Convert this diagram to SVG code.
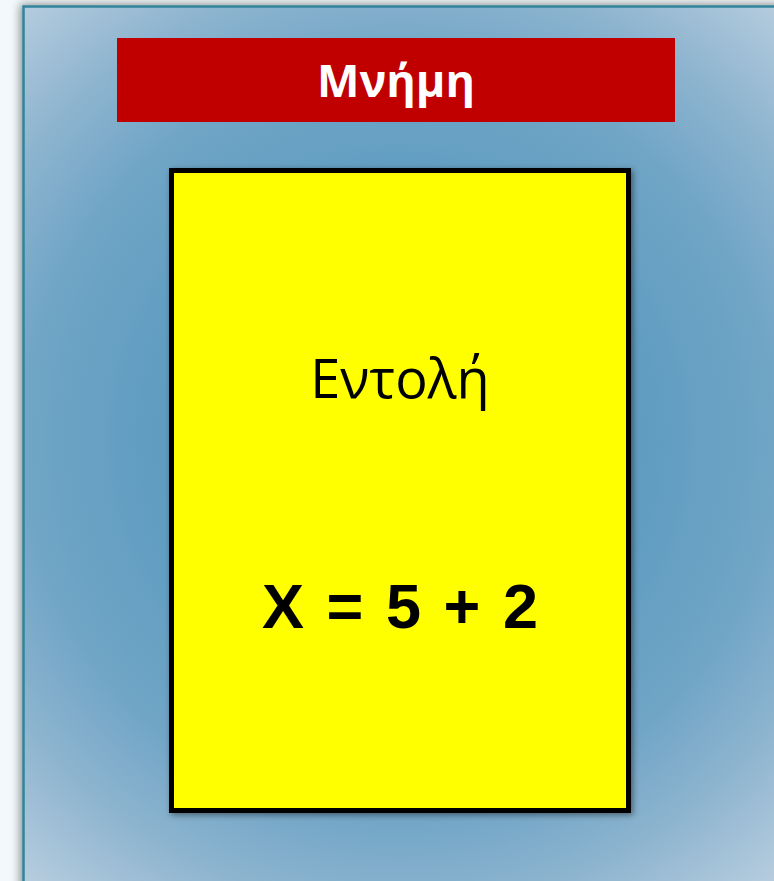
<svg xmlns="http://www.w3.org/2000/svg" width="774" height="881" viewBox="0 0 774 881">
<defs>
<radialGradient id="bg" cx="400" cy="440" r="585" gradientUnits="userSpaceOnUse">
<stop offset="0" stop-color="#5597bd"/>
<stop offset="0.35" stop-color="#5a9abf"/>
<stop offset="0.64" stop-color="#70a5c6"/>
<stop offset="0.8" stop-color="#8db4cf"/>
<stop offset="1" stop-color="#b9cedf"/>
</radialGradient>
<filter id="sh" x="-10%" y="-10%" width="120%" height="120%">
<feGaussianBlur in="SourceAlpha" stdDeviation="5"/>
<feOffset dx="-2" dy="-1"/>
<feComponentTransfer><feFuncA type="linear" slope="0.45"/></feComponentTransfer>
<feMerge><feMergeNode/><feMergeNode in="SourceGraphic"/></feMerge>
</filter>
<filter id="sh2" x="-10%" y="-10%" width="120%" height="120%">
<feGaussianBlur in="SourceAlpha" stdDeviation="3"/>
<feOffset dx="2" dy="2"/>
<feComponentTransfer><feFuncA type="linear" slope="0.45"/></feComponentTransfer>
<feMerge><feMergeNode/><feMergeNode in="SourceGraphic"/></feMerge>
</filter>
</defs>
<style>
.t{font-family:"Open Sans","Noto Sans","Liberation Sans",sans-serif;text-anchor:middle}
.m{font-family:"Liberation Sans",Arial,sans-serif;font-weight:bold;text-anchor:middle}
</style>
<rect x="0" y="0" width="774" height="881" fill="#f2f8fb"/>
<g id="panel">
<rect x="23.5" y="6.5" width="780" height="900" fill="url(#bg)" stroke="#31849b" stroke-width="2.5" filter="url(#sh)"/>
</g>
<g id="title">
<rect x="117" y="38" width="558" height="84" fill="#c00000"/>
<text class="t" x="396" y="97" font-size="45" font-weight="bold" fill="#ffffff">Μνήμη</text>
</g>
<g id="memory-cell">
<rect x="171.5" y="170.5" width="457" height="640" fill="#ffff00" stroke="#000000" stroke-width="5" filter="url(#sh2)"/>
<text class="t" x="400" y="398" font-size="54" fill="#000000">Εντολή</text>
<text class="m" x="400" y="628" font-size="63" textLength="276" lengthAdjust="spacing" fill="#000000">X = 5 + 2</text>
</g>
<g id="connectors"/>
</svg>
